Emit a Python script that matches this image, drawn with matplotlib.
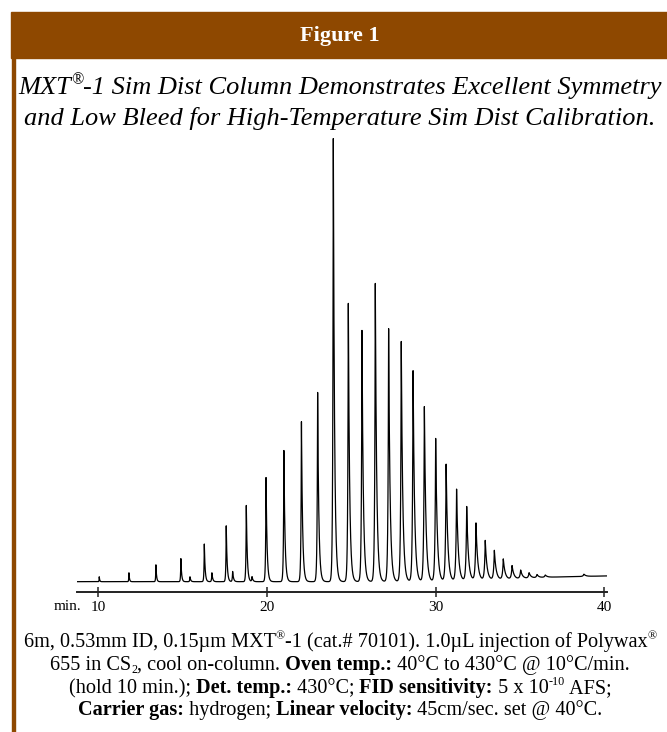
import numpy as np
import matplotlib.pyplot as plt
from matplotlib.patches import Rectangle
from matplotlib.transforms import IdentityTransform

W, H = 667, 732
BROWN = '#8e4800'

# retention times (min) and heights (% of the tallest peak)
peak_times = [10.06, 11.82, 13.42, 14.90, 15.44, 16.29, 16.74, 17.59, 17.97,
              18.78, 19.12, 19.95, 21.01, 22.05, 23.01, 23.94, 24.83, 25.64,
              26.43, 27.22, 27.97, 28.67, 29.34, 30.01, 30.63, 31.25, 31.85,
              32.40, 32.95, 33.49, 34.02, 34.54, 35.05, 35.55, 36.02, 36.51,
              38.80]
peak_heights = [1.1, 2.0, 3.8, 5.2, 1.1, 8.5, 2.0, 12.6, 2.3,
                17.2, 1.1, 23.5, 29.6, 36.1, 42.7, 100.0, 62.8, 56.7,
                67.3, 57.1, 54.2, 47.6, 39.5, 32.3, 26.4, 20.7, 16.7,
                12.9, 8.9, 6.6, 4.6, 3.0, 1.9, 1.2, 0.7, 0.5,
                0.5]

# slow baseline drift (same units)
base_times = [8.74, 30.0, 34.0, 36.5, 40.17]
base_levels = [0.0, 0.0, 0.5, 1.0, 1.3]

tick_vals = [10, 20, 30, 40]
tick_labels = ['10', '20', '30', '40']

plt.rcParams['font.family'] = ['Liberation Serif', 'DejaVu Serif']

fig = plt.figure(figsize=(W / 100, H / 100), dpi=100)

# header bar and left rule
fig.patches.append(Rectangle((11 / W, 1 - 58 / H), (W - 11) / W, 46 / H,
                             transform=fig.transFigure, color=BROWN, zorder=0))
fig.patches.append(Rectangle((12.3 / W, 0), 2.6 / W, 1 - 58 / H,
                             transform=fig.transFigure, color=BROWN, zorder=0))
fig.text(340 / W, 1 - 36 / H, 'Figure 1', color='white', fontsize=16,
         fontweight='bold', ha='center', va='center')

# chromatogram
ax = fig.add_axes([77 / W, 1 - 592 / H, 530 / W, 457 / H])
t = np.arange(8.74, 40.17, 0.002)
sig = np.interp(t, base_times, base_levels)
for rt, h in zip(peak_times, peak_heights):
    tl = 0.012 + 0.0014 * (rt - 10)
    tr = 2.3 * tl
    d = t - rt
    sig = sig + h * np.where(d < 0, np.exp(np.minimum(d, 0) / tl),
                             np.exp(-np.maximum(d, 0) / tr))
ax.plot(t, sig, color='black', lw=0.9)
ax.set_xlim(8.74, 40.17)
ax.set_ylim(-2.33, 100.8)
for s in ['top', 'right', 'left']:
    ax.spines[s].set_visible(False)
ax.spines['bottom'].set_linewidth(1.4)
ax.spines['bottom'].set_color('#222222')
ax.set_yticks([])
ax.set_xticks(tick_vals)
ax.set_xticklabels(tick_labels)
ax.tick_params(axis='x', direction='inout', length=7, width=1.1,
               labelsize=11, pad=3, color='#222222')
fig.text(67 / W, 1 - 607 / H, 'min.', fontsize=11, ha='center', va='center')

renderer = fig.canvas.get_renderer()


def rich_line(y, parts, size, style='normal', cx=340):
    # parts: (text, bold, shift) with shift +1 superscript, -1 subscript
    items = []
    for s, bold, shift in parts:
        fs = size * 0.6 if shift else size
        txt = fig.text(0, 0, s, fontsize=fs, fontstyle=style,
                       fontweight='bold' if bold else 'normal',
                       va='baseline', ha='left', transform=IdentityTransform())
        items.append((txt, txt.get_window_extent(renderer).width, shift))
    x = cx - sum(w for _, w, _ in items) / 2
    for txt, w, shift in items:
        dy = size * 100 / 72 * (0.38 if shift > 0 else -0.15 if shift < 0 else 0)
        txt.set_position((x, H - y + dy))
        x += w


title_size = 19
rich_line(94, [('MXT', False, 0), ('®', False, 1),
               ('-1 Sim Dist Column Demonstrates Excellent Symmetry', False, 0)],
          title_size, style='italic')
rich_line(125, [('and Low Bleed for High-Temperature Sim Dist Calibration.', False, 0)],
          title_size, style='italic')

cap = 14.6
rich_line(647, [('6m, 0.53mm ID, 0.15µm MXT', False, 0), ('®', False, 1),
                ('-1 (cat.# 70101). 1.0µL injection of Polywax', False, 0),
                ('®', False, 1)], cap)
rich_line(670, [('655 in CS', False, 0), ('2', False, -1),
                (', cool on-column.', False, 0), (' Oven temp.:', True, 0),
                (' 40°C to 430°C @ 10°C/min.', False, 0)], cap)
rich_line(693, [('(hold 10 min.);', False, 0), (' Det. temp.:', True, 0),
                (' 430°C;', False, 0), (' FID sensitivity:', True, 0),
                (' 5 x 10', False, 0), ('-10', False, 1), (' AFS;', False, 0)], cap)
rich_line(715, [('Carrier gas:', True, 0), (' hydrogen;', False, 0),
                (' Linear velocity:', True, 0),
                (' 45cm/sec. set @ 40°C.', False, 0)], cap)

fig.savefig('out.png', dpi=100)
